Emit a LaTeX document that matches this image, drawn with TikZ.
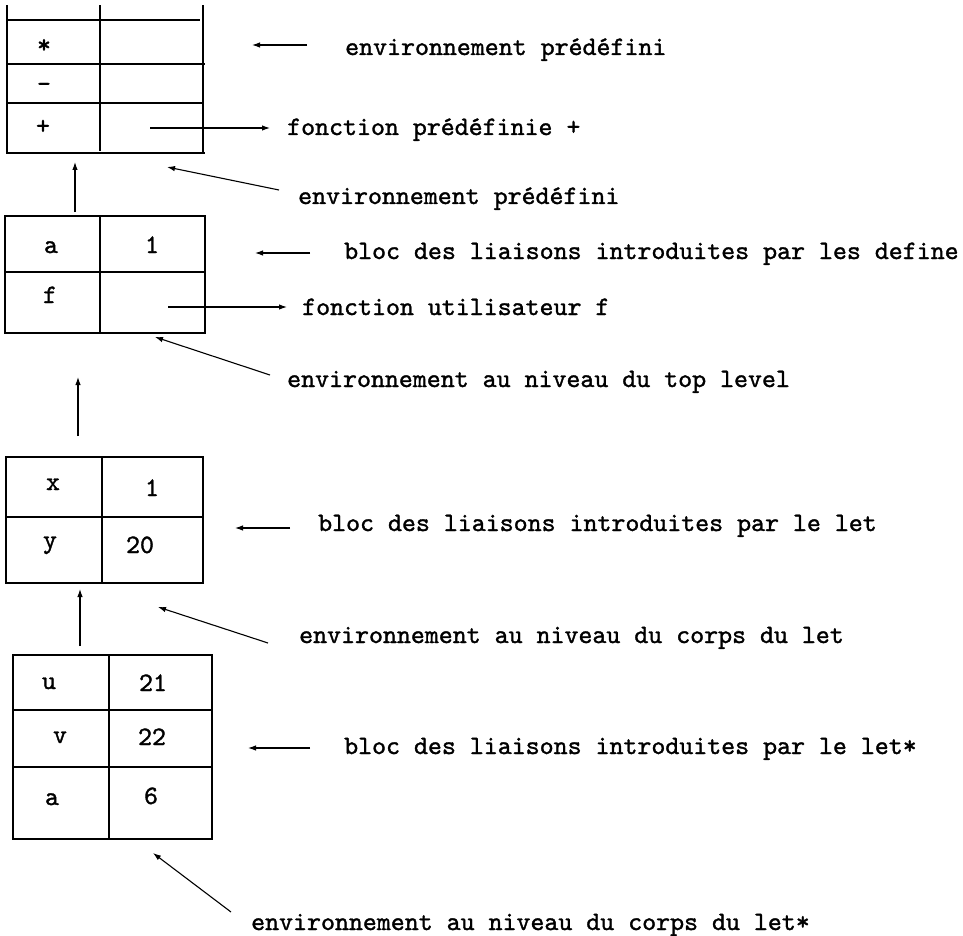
\documentclass[tikz,border=0pt]{standalone}
\usepackage{fontspec}
\usetikzlibrary{arrows.meta}
% a slightly heavier typewriter face
\newfontfamily\ttdark[FakeBold=1.3]{lmmono10-regular.otf}
\begin{document}
\begin{tikzpicture}[x=1pt,y=-1pt,
  rule/.style={line width=1.4pt,line cap=rect},
  frame/.style={draw,line width=1.4pt,inner sep=0pt,minimum width=#1},
  link/.style={line width=1.1pt,-{Latex[length=8pt,width=5.5pt]}},
  lbl/.style={anchor=base west,inner sep=0pt,font=\fontsize{26.6}{30}\selectfont\ttdark},
  cell/.style={anchor=base,inner sep=0pt,font=\fontsize{26.6}{30}\selectfont\ttdark}]
\useasboundingbox (0,0) rectangle (963,936);

% ---- predefined environment (open at the top) ----
\draw[rule] (7,6) -- (7,153) -- (204,153);
\draw[rule] (203,6) -- (203,153);
\draw[rule] (100,6) -- (100,150);
\draw[rule] (8,20) -- (199,20);
\draw[rule] (7,64) -- (204,64);
\draw[rule] (7,103) -- (201,103);
\node[cell] (k1) at (44,53) {*};
\node[cell] (k2) at (44,92) {-};
\node[cell] (k3) at (43,134) {+};

% ---- block of the define bindings ----
\node[frame=200pt,minimum height=117pt] (b2) at (105,274.5) {};
\draw[rule] (100,216) -- (100,333);
\draw[rule] (5,272) -- (205,272);
\node[cell] (a1) at (51,253) {a};
\node[cell] (a1v) at (152,253) {1};
\node[cell] (f1) at (50,303) {f};

% ---- block of the let bindings ----
\node[frame=197pt,minimum height=126pt] (b3) at (104.5,520) {};
\draw[rule] (102,457) -- (102,583);
\draw[rule] (6,517) -- (203,517);
\node[cell] (x1) at (53,490) {x};
\node[cell] (x1v) at (152,496) {1};
\node[cell] (y1) at (50,548) {y};
\node[cell] (y1v) at (140,553) {20};

% ---- block of the let* bindings ----
\node[frame=199pt,minimum height=184pt] (b4) at (112.5,747) {};
\draw[rule] (109,655) -- (109,839);
\draw[rule] (13,710) -- (212,710);
\draw[rule] (13,767) -- (212,767);
\node[cell] (u1) at (49,689) {u};
\node[cell] (u1v) at (153,691) {21};
\node[cell] (v1) at (60,743) {v};
\node[cell] (v1v) at (152,745) {22};
\node[cell] (a2) at (52,805) {a};
\node[cell] (a2v) at (151,804) {6};

% ---- labels ----
\node[lbl] (l1) at (345,55) {environnement prédéfini};
\node[lbl] (l2) at (287,135) {fonction prédéfinie +};
\node[lbl] (l3) at (298,204) {environnement prédéfini};
\node[lbl] (l4) at (344,259) {bloc des liaisons introduites par les define};
\node[lbl] (l5) at (302,315) {fonction utilisateur f};
\node[lbl] (l6) at (287,387) {environnement au niveau du top level};
\node[lbl] (l7) at (318,531) {bloc des liaisons introduites par le let};
\node[lbl] (l8) at (299,643) {environnement au niveau du corps du let};
\node[lbl] (l9) at (344,754) {bloc des liaisons introduites par le let*};
\node[lbl] (l10) at (251,930) {environnement au niveau du corps du let*};

% ---- connector end points ----
\coordinate (p1s) at (307,45);  \coordinate (p1e) at (252,45);
\coordinate (p2s) at (150,128); \coordinate (p2e) at (270,128);
\coordinate (p3s) at (279,190); \coordinate (p3e) at (167,167);
\coordinate (q1s) at (75,212);  \coordinate (q1e) at (75,162);
\coordinate (p4s) at (310,253); \coordinate (p4e) at (255,253);
\coordinate (p5s) at (168,307); \coordinate (p5e) at (287,307);
\coordinate (p6s) at (270,375); \coordinate (p6e) at (155,337);
\coordinate (q2s) at (78,436);  \coordinate (q2e) at (78,377);
\coordinate (p7s) at (290,528); \coordinate (p7e) at (235,528);
\coordinate (q3s) at (80,646);  \coordinate (q3e) at (80,589);
\coordinate (p8s) at (268,643); \coordinate (p8e) at (158,607);
\coordinate (p9s) at (310,748); \coordinate (p9e) at (248,748);
\coordinate (p10s) at (231,912); \coordinate (p10e) at (153,853);

% ---- connectors ----
\foreach \c in {p1,p2,p3,q1,p4,p5,p6,q2,p7,q3,p8,p9,p10}
  \draw[link] (\c s) -- (\c e);
\end{tikzpicture}
\end{document}
